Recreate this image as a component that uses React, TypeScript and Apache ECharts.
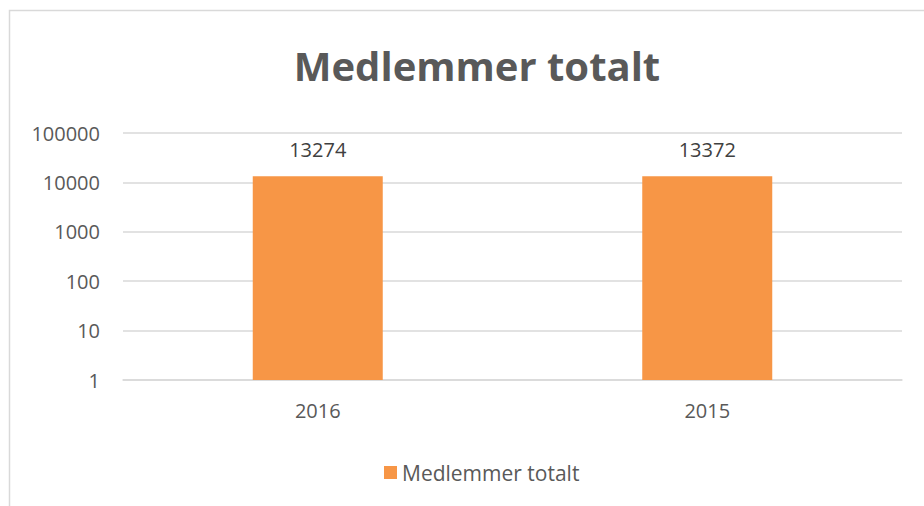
import React, { useEffect, useRef } from "react";
import * as echarts from "echarts";

const categories = ["2016", "2015"];
const seriesName = "Medlemmer totalt";
const values = [13274, 13372];
const titleText = "Medlemmer totalt";

export default function App() {
  const ref = useRef<HTMLDivElement>(null);
  useEffect(() => {
    if (!ref.current) return;
    const chart = echarts.init(ref.current, null, { renderer: "svg" });
    const font = "Open Sans";
    chart.setOption({
      animation: false,
      backgroundColor: "#ffffff",
      title: {
        text: titleText,
        left: 472,
        textAlign: "center",
        top: 40,
        textStyle: { fontFamily: font, fontSize: 40, fontWeight: "bold", color: "#595959" },
      },
      legend: {
        data: [seriesName],
        left: 379,
        top: 457,
        itemWidth: 13,
        itemHeight: 13,
        itemGap: 6,
        icon: "rect",
        textStyle: { fontFamily: font, fontSize: 21, color: "#595959" },
      },
      grid: { left: 123, right: 22, top: 133, bottom: 126, containLabel: false },
      xAxis: {
        type: "category",
        data: categories,
        axisLine: { show: true, lineStyle: { color: "#d9d9d9", width: 1.5 } },
        axisTick: { show: false },
        axisLabel: { fontFamily: font, fontSize: 20, color: "#595959", margin: 20 },
      },
      yAxis: {
        type: "log",
        logBase: 10,
        min: 1,
        max: 100000,
        axisLine: { show: false },
        axisTick: { show: false },
        splitLine: { lineStyle: { color: "#d9d9d9", width: 1.5 } },
        axisLabel: {
          fontFamily: font,
          fontSize: 20,
          color: "#595959",
          margin: 23,
          formatter: (v: number) => String(Math.round(v)),
        },
      },
      graphic: [
        {
          type: "rect",
          shape: { x: 9.5, y: 10.5, width: 960, height: 540 },
          style: { fill: "none", stroke: "#d9d9d9", lineWidth: 1.5 },
          silent: true,
          z: -1,
        },
      ],
      series: [
        {
          name: seriesName,
          type: "bar",
          data: values,
          barWidth: 130,
          itemStyle: { color: "#f79646" },
          label: {
            show: true,
            position: "top",
            distance: 17,
            fontFamily: font,
            fontSize: 20,
            color: "#404040",
          },
        },
      ],
    });
    return () => chart.dispose();
  }, []);
  return (
    <div
      ref={ref}
      style={{ width: 924, height: 506, position: "absolute", left: 0, top: 0 }}
    />
  );
}
